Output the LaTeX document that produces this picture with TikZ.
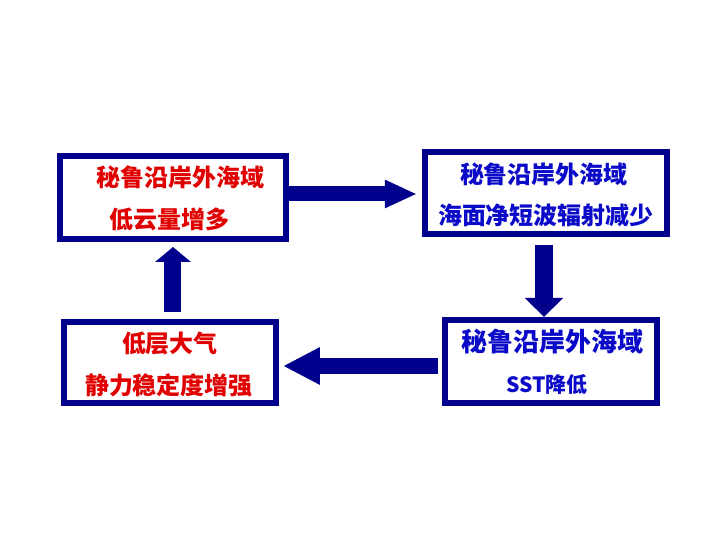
\documentclass[tikz,border=0pt]{standalone}
\usepackage{fontspec}
\usepackage{tikz}
\usetikzlibrary{arrows.meta}
\newfontfamily\cjk{Noto Sans CJK SC}
\definecolor{boxblue}{RGB}{0,0,140}
\definecolor{textblue}{RGB}{10,10,200}
\definecolor{textred}{RGB}{225,0,0}

\begin{document}
\begin{tikzpicture}[x=0.5pt, y=-0.5pt,
  box/.style={draw=boxblue, line width=3pt, fill=white, inner sep=0pt},
  redtext/.style={text=textred, font=\cjk\bfseries\fontsize{12}{14}\selectfont, inner sep=0pt},
  bluetext/.style={text=textblue, font=\cjk\bfseries\fontsize{12}{14}\selectfont, inner sep=0pt},
  blockarrow/.style={draw=boxblue, line width=#1},
]

\useasboundingbox (0,0) rectangle (720,540);

% boxes
\node [box, minimum width=113pt, minimum height=41.5pt] (B1) at (173, 197.5) {};
\node [box, minimum width=121pt, minimum height=41pt] (B2) at (546, 193) {};
\node [box, minimum width=106pt, minimum height=40.5pt] (B3) at (170, 363) {};
\node [box, minimum width=106pt, minimum height=41.5pt] (B4) at (551, 362) {};

% texts
\node [redtext] (T1a) at (181, 177) {秘鲁沿岸外海域};
\node [redtext] (T1b) at (170, 219) {低云量增多};
\node [bluetext] (T2a) at (544, 174) {秘鲁沿岸外海域};
\node [bluetext] (T2b) at (546, 215) {海面净短波辐射减少};
\node [redtext] (T3a) at (170, 343) {低层大气};
\node [redtext] (T3b) at (169, 385) {静力稳定度增强};
\node [bluetext, font=\cjk\bfseries\fontsize{13}{15}\selectfont] (T4a) at (553, 342) {秘鲁沿岸外海域};
\node [bluetext, font=\cjk\bfseries\fontsize{10.5}{12}\selectfont] (T4b) at (547, 385) {SST降低};

% arrow ends
\coordinate (A1) at (B1.east |- 0, 194);
\coordinate (A2) at (417, 194);
\coordinate (A3) at (544, 245);
\coordinate (A4) at (544, 317);
\coordinate (A5) at (438, 366);
\coordinate (A6) at (283, 366);
\coordinate (A7) at (173, 312);
\coordinate (A8) at (173, 247);

% block arrows
\draw [blockarrow=7.5pt, -{Triangle[length=16pt, width=13pt]}] (A1) -- (A2);
\draw [blockarrow=9pt, -{Triangle[length=9.5pt, width=18.5pt]}] (A3) -- (A4);
\draw [blockarrow=8pt, -{Triangle[length=18.5pt, width=17.5pt]}] (A5) -- (A6);
\draw [blockarrow=8.5pt, -{Triangle[length=7.5pt, width=17.5pt]}] (A7) -- (A8);

\end{tikzpicture}
\end{document}
